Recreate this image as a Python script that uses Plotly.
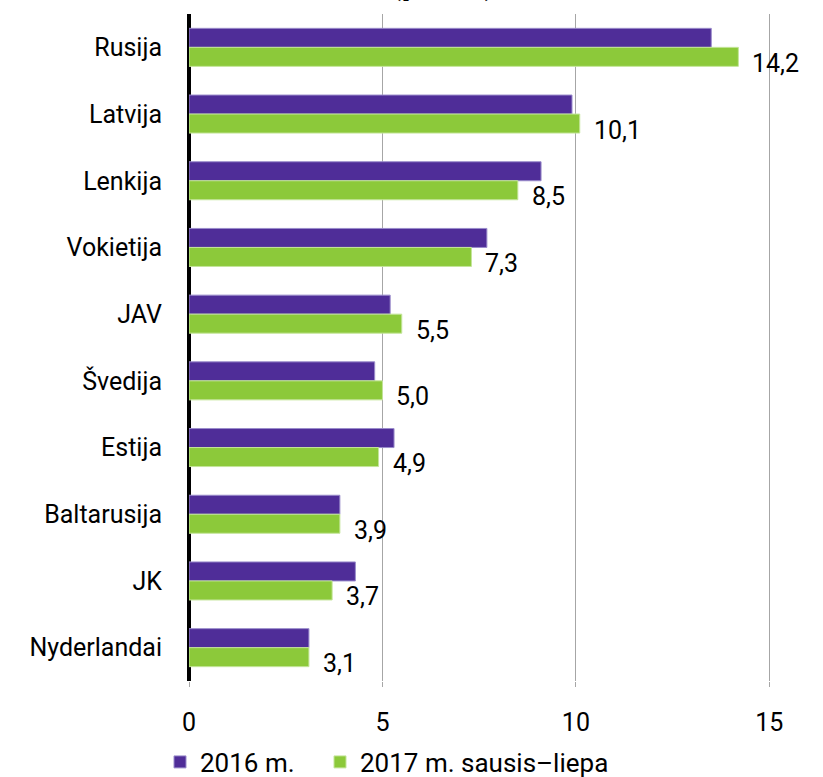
import plotly.graph_objects as go

salys = ['Rusija', 'Latvija', 'Lenkija', 'Vokietija', 'JAV', 'Švedija', 'Estija',
         'Baltarusija', 'JK', 'Nyderlandai']
v2016 = [13.5, 9.9, 9.1, 7.7, 5.2, 4.8, 5.3, 3.9, 4.3, 3.1]
v2017 = [14.2, 10.1, 8.5, 7.3, 5.5, 5.0, 4.9, 3.9, 3.7, 3.1]
x_ticks = [0, 5, 10, 15]

FONT = 'Roboto, sans-serif'
W, H = 823, 777

fig = go.Figure()
fig.add_trace(go.Bar(y=salys, x=v2016, orientation='h', name='2016 m.', legend='legend',
                     marker=dict(color='#4F2D98', line=dict(color='#9A8CCB', width=1))))
fig.add_trace(go.Bar(y=salys, x=v2017, orientation='h', name='2017 m. sausis–liepa', legend='legend2',
                     marker=dict(color='#8CC93A', line=dict(color='#C4E59A', width=1))))

# skaičiai prie žalių stulpelių
for s, v in zip(salys, v2017):
    fig.add_annotation(x=v, y=s, xref='x', yref='y', text=f'{v:.1f}'.replace('.', ','),
                       showarrow=False, xanchor='left', yanchor='middle',
                       xshift=12, yshift=-16, font=dict(size=25, color='black', family=FONT))

# nukirptas pavadinimas viršuje
fig.add_annotation(x=0.32, y=1.0, xref='paper', yref='paper', yshift=10, text='<b>(proc.)</b>',
                   showarrow=False, yanchor='bottom', font=dict(size=36, color='black', family=FONT))

leg = dict(orientation='h', xref='container', xanchor='left', y=15 / H, yref='container',
           yanchor='middle', font=dict(size=26))

fig.update_layout(
    width=W, height=H,
    margin=dict(l=189, r=15, t=14, b=96),
    plot_bgcolor='white', paper_bgcolor='white',
    barmode='group', bargap=0.43, bargroupgap=0,
    font=dict(family=FONT, size=25, color='black'),
    showlegend=True,
    legend=dict(leg, x=160 / W),
    legend2=dict(leg, x=320 / W),
    xaxis=dict(range=[0, 16], tickvals=x_ticks, showgrid=True, gridcolor='#A6A6A6', gridwidth=1,
               zeroline=True, zerolinecolor='black', zerolinewidth=4,
               ticks='outside', ticklen=5, tickcolor='#A6A6A6', ticklabelstandoff=14,
               showline=False, automargin=False),
    yaxis=dict(autorange='reversed', showgrid=False, ticks='', ticklabelstandoff=26,
               showline=False, automargin=False),
)

fig.write_html('out.html', config={'displayModeBar': False},
               post_script="document.body.style.margin='0';")
